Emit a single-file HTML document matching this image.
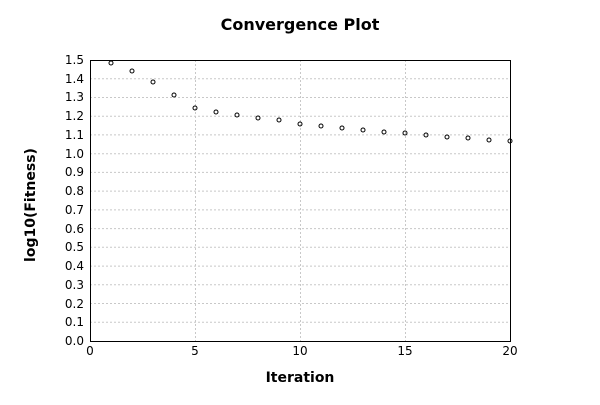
<!DOCTYPE html>
<html><head><meta charset="utf-8"><style>body{margin:0;background:#fff}</style></head><body>
<svg width="600" height="400" xmlns="http://www.w3.org/2000/svg" font-family="DejaVu Sans, sans-serif">
<rect width="600" height="400" fill="#fff"/>
<text x="300" y="30" text-anchor="middle" font-size="16" font-weight="bold">Convergence Plot</text>
<g stroke="#c8c8c8" stroke-width="1" stroke-dasharray="2,2">
<line x1="90" x2="510" y1="322.3" y2="322.3"/><line x1="90" x2="510" y1="303.5" y2="303.5"/><line x1="90" x2="510" y1="284.8" y2="284.8"/><line x1="90" x2="510" y1="266.1" y2="266.1"/><line x1="90" x2="510" y1="247.3" y2="247.3"/><line x1="90" x2="510" y1="228.6" y2="228.6"/><line x1="90" x2="510" y1="209.9" y2="209.9"/><line x1="90" x2="510" y1="191.1" y2="191.1"/><line x1="90" x2="510" y1="172.4" y2="172.4"/><line x1="90" x2="510" y1="153.7" y2="153.7"/><line x1="90" x2="510" y1="134.9" y2="134.9"/><line x1="90" x2="510" y1="116.2" y2="116.2"/><line x1="90" x2="510" y1="97.5" y2="97.5"/><line x1="90" x2="510" y1="78.7" y2="78.7"/>
<line x1="195.5" x2="195.5" y1="60" y2="341"/><line x1="300.5" x2="300.5" y1="60" y2="341"/><line x1="405.5" x2="405.5" y1="60" y2="341"/>
</g>
<rect x="90.5" y="60.5" width="420" height="281" fill="none" stroke="#000"/>
<g font-size="12" text-anchor="end" fill="#000">
<text x="84" y="345">0.0</text><text x="84" y="326">0.1</text><text x="84" y="308">0.2</text><text x="84" y="289">0.3</text><text x="84" y="270">0.4</text><text x="84" y="251">0.5</text><text x="84" y="233">0.6</text><text x="84" y="214">0.7</text><text x="84" y="195">0.8</text><text x="84" y="176">0.9</text><text x="84" y="158">1.0</text><text x="84" y="139">1.1</text><text x="84" y="120">1.2</text><text x="84" y="101">1.3</text><text x="84" y="83">1.4</text><text x="84" y="64">1.5</text>
</g>
<g font-size="12" text-anchor="middle">
<text x="90" y="355">0</text><text x="195" y="355">5</text><text x="300" y="355">10</text><text x="405" y="355">15</text><text x="510" y="355">20</text>
</g>
<text x="300" y="382" text-anchor="middle" font-size="14" font-weight="bold">Iteration</text>
<text transform="translate(35,205) rotate(-90)" text-anchor="middle" font-size="14" font-weight="bold">log10(Fitness)</text>
<g fill="none" stroke="#000" stroke-width="1">
<circle cx="111" cy="63" r="2"/><circle cx="132" cy="71" r="2"/><circle cx="153" cy="82" r="2"/><circle cx="174" cy="95" r="2"/><circle cx="195" cy="108" r="2"/><circle cx="216" cy="112" r="2"/><circle cx="237" cy="115" r="2"/><circle cx="258" cy="118" r="2"/><circle cx="279" cy="120" r="2"/><circle cx="300" cy="124" r="2"/><circle cx="321" cy="126" r="2"/><circle cx="342" cy="128" r="2"/><circle cx="363" cy="130" r="2"/><circle cx="384" cy="132" r="2"/><circle cx="405" cy="133" r="2"/><circle cx="426" cy="135" r="2"/><circle cx="447" cy="137" r="2"/><circle cx="468" cy="138" r="2"/><circle cx="489" cy="140" r="2"/><circle cx="510" cy="141" r="2"/>
</g>
</svg>
</body></html>
